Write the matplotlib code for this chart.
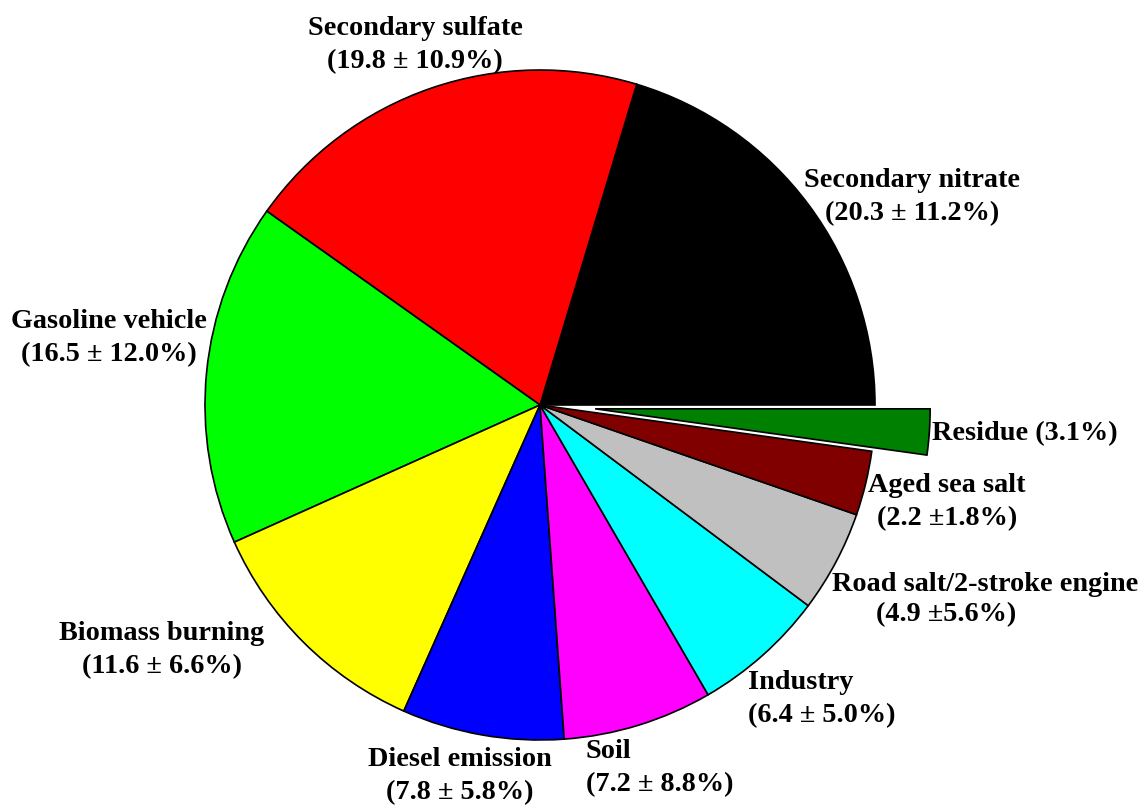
import matplotlib
matplotlib.use("Agg")
import matplotlib.pyplot as plt
import numpy as np

# Wedge sizes as drawn (percent), counterclockwise from 0 deg
categories = ["Secondary nitrate", "Secondary sulfate", "Gasoline vehicle",
              "Biomass burning", "Diesel emission", "Soil", "Industry",
              "Road salt/2-stroke engine", "Aged sea salt", "Residue"]
values = [20.3, 19.8, 16.5, 11.6, 7.8, 7.2, 6.4, 4.9, 3.1, 2.2]
colors = ["#000000", "#FF0000", "#00FF00", "#FFFF00", "#0000FF", "#FF00FF",
          "#00FFFF", "#C0C0C0", "#800000", "#008000"]
explode = [0, 0, 0, 0, 0, 0, 0, 0, 0, 0.165]

label_texts = [
    "Secondary nitrate\n(20.3 ± 11.2%)",
    "Secondary sulfate\n(19.8 ± 10.9%)",
    "Gasoline vehicle\n(16.5 ± 12.0%)",
    "Biomass burning\n(11.6 ± 6.6%)",
    "Diesel emission\n(7.8 ± 5.8%)",
    "Soil\n(7.2 ± 8.8%)",
    "Industry\n(6.4 ± 5.0%)",
    "Road salt/2-stroke engine\n(4.9 ±5.6%)",
    "Aged sea salt\n(2.2 ±1.8%)",
    "Residue (3.1%)",
]

W, H = 1143, 805
cx, cy, R = 540, 405, 335
fig = plt.figure(figsize=(W / 100, H / 100), dpi=100)
ax = fig.add_axes([0, 0, 1, 1])

ax.pie(values, colors=colors, explode=explode, startangle=0, counterclock=True,
       radius=1.0, normalize=True,
       wedgeprops=dict(edgecolor="black", linewidth=1.2))

ax.set_xlim(-cx / R, (W - cx) / R)
ax.set_ylim(-(H - cy) / R, cy / R)
ax.set_aspect("equal")
ax.axis("off")

def px(x, y):
    return (x - cx) / R, (cy - y) / R

font = dict(family="Liberation Serif", fontweight="bold", fontsize=20.3,
            color="black", linespacing=1.38)

# (pixel x, pixel y, ha) for each label block
pos = [
    (912, 197, "center"),
    (415, 45, "center"),
    (109, 338, "center"),
    (162, 650, "center"),
    (460, 776, "center"),
    (586, 768, "left"),
    (748, 699, "left"),
    None,
    (947, 502, "center"),
    (932, 434, "left"),
]
for txt, p in zip(label_texts, pos):
    if p is None:
        continue
    x, y = px(p[0], p[1])
    ax.text(x, y, txt, ha=p[2], va="center", multialignment=p[2], **font)

# Road salt label: two lines with different centres
l1, l2 = label_texts[7].split("\n")
x, y = px(985, 584)
ax.text(x, y, l1, ha="center", va="center", **font)
x, y = px(946, 615)
ax.text(x, y, l2, ha="center", va="center", **font)

fig.savefig("out.png", dpi=100)
